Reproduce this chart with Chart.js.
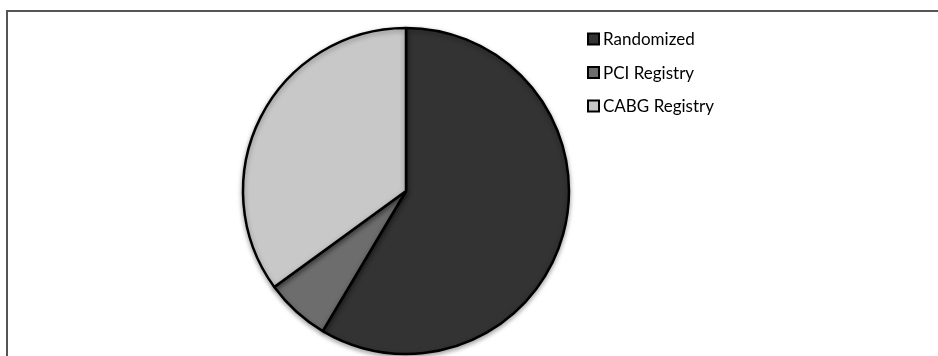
<!DOCTYPE html>
<html>
<head>
<meta charset="utf-8">
<script src="https://cdn.jsdelivr.net/npm/chart.js@4"></script>
<style>
    html, body { margin: 0; padding: 0; background: #fff; }
    #wrap { width: 938px; height: 356px; position: relative; }
</style>
</head>
<body>
<div id="wrap"><canvas id="pieChart" width="938" height="356"></canvas></div>
<script>
// Patient groups and counts
const groups = ['Randomized', 'PCI Registry', 'CABG Registry'];
const patients = [1800, 198, 1077];
const sliceColors = ['#333333', '#6d6d6d', '#c8c8c8'];

// Frame lines at the top and left edge
const framePlugin = {
    id: 'frame',
    beforeDraw(chart) {
        const ctx = chart.ctx;
        ctx.save();
        ctx.strokeStyle = '#555555';
        ctx.lineWidth = 2;
        ctx.beginPath();
        ctx.moveTo(7, 356);
        ctx.lineTo(7, 11);
        ctx.lineTo(938, 11);
        ctx.stroke();
        ctx.restore();
    }
};

// Soft shadow under the pie
const shadowPlugin = {
    id: 'pieShadow',
    beforeDatasetsDraw(chart) {
        const ctx = chart.ctx;
        ctx.save();
        ctx.shadowColor = 'rgba(0,0,0,0.35)';
        ctx.shadowBlur = 5;
        ctx.shadowOffsetX = 0;
        ctx.shadowOffsetY = 2;
    },
    afterDatasetsDraw(chart) {
        chart.ctx.restore();
    }
};

// Legend drawn next to the pie
const legendPlugin = {
    id: 'sideLegend',
    afterDraw(chart) {
        const ctx = chart.ctx;
        const labels = chart.data.labels;
        const colors = chart.data.datasets[0].backgroundColor;
        ctx.save();
        ctx.font = '17px Lato';
        ctx.textBaseline = 'middle';
        labels.forEach(function (label, i) {
            const y = 39 + i * 33.5;
            ctx.fillStyle = colors[i];
            ctx.fillRect(588, y - 5.5, 11, 11);
            ctx.strokeStyle = '#000';
            ctx.lineWidth = 2;
            ctx.strokeRect(588, y - 5.5, 11, 11);
            ctx.fillStyle = '#000';
            ctx.fillText(label, 603, y + 1);
        });
        ctx.restore();
    }
};

const ctx = document.getElementById('pieChart');
new Chart(ctx, {
    type: 'pie',
    data: {
        labels: groups,
        datasets: [{
            data: patients,
            backgroundColor: sliceColors,
            borderColor: '#000000',
            borderWidth: 2.5,
            clip: false
        }]
    },
    options: {
        responsive: false,
        animation: false,
        radius: 163,
        layout: { padding: { left: 0, right: 126, top: 26, bottom: 0 } },
        plugins: {
            legend: { display: false },
            tooltip: { enabled: false }
        }
    },
    plugins: [framePlugin, shadowPlugin, legendPlugin]
});
</script>
</body>
</html>
